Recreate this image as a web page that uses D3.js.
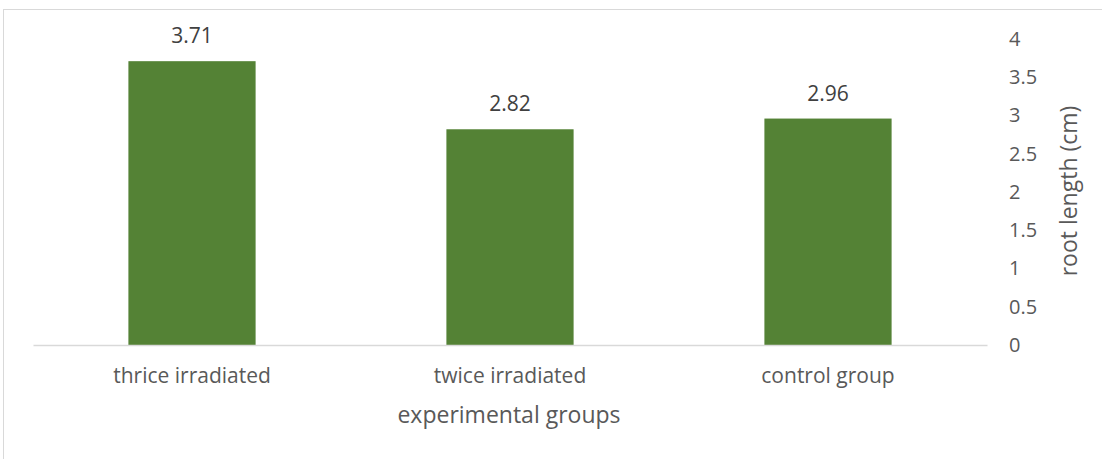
<!DOCTYPE html>
<html>
<head>
<meta charset="utf-8">
<script src="https://cdn.jsdelivr.net/npm/d3@7"></script>
<style>
  body { margin: 0; background: #fff; }
  svg text { font-family: "Open Sans", sans-serif; }
</style>
</head>
<body>
<script>
'use strict';

// chart data
const groups = ["thrice irradiated", "twice irradiated", "control group"];
const rootLength = [3.71, 2.82, 2.96];
const yTicks = [0, 0.5, 1, 1.5, 2, 2.5, 3, 3.5, 4];

const width = 1102, height = 459;

const svg = d3.select('body')
  .append('svg')
  .attr('width', width)
  .attr('height', height);

// chart area border
svg.append('rect')
  .attr('x', 3.5).attr('y', 9.5)
  .attr('width', 1110).attr('height', 460)
  .attr('fill', 'none')
  .attr('stroke', '#d9d9d9')
  .attr('stroke-width', 1);

// scales
const xScale = d3.scaleBand()
  .domain(groups)
  .range([33, 987]);

const yScale = d3.scaleLinear()
  .domain([0, 4])
  .range([345, 39]);

const barWidth = xScale.bandwidth() * 0.4;

// bars
svg.selectAll('.bar')
  .data(groups)
  .enter()
  .append('rect')
    .attr('class', 'bar')
    .attr('x', (d) => xScale(d) + (xScale.bandwidth() - barWidth) / 2)
    .attr('y', (d, i) => yScale(rootLength[i]))
    .attr('width', barWidth)
    .attr('height', (d, i) => yScale(0) - yScale(rootLength[i]))
    .attr('fill', '#548235');

// value labels
svg.selectAll('.val')
  .data(groups)
  .enter()
  .append('text')
    .attr('x', (d) => xScale(d) + xScale.bandwidth() / 2)
    .attr('y', (d, i) => yScale(rootLength[i]) - 18)
    .attr('text-anchor', 'middle')
    .attr('font-size', '21px')
    .attr('fill', '#404040')
    .text((d, i) => rootLength[i].toFixed(2));

// x axis (line + labels)
let xAxis = d3.axisBottom(xScale).tickSize(0).tickPadding(23);
let gx = svg.append('g')
  .attr('transform', 'translate(0, 345)')
  .call(xAxis);
gx.select('.domain').attr('stroke', '#d9d9d9').attr('stroke-width', 1.3);
gx.selectAll('text')
  .attr('font-size', '21px')
  .attr('fill', '#595959')
  .style('font-family', '"Open Sans", sans-serif');

// y axis on the right
let yAxis = d3.axisRight(yScale).tickValues(yTicks).tickSize(0).tickPadding(0)
  .tickFormat((d) => String(d));
let gy = svg.append('g')
  .attr('transform', 'translate(1009, 0)')
  .call(yAxis);
gy.select('.domain').remove();
gy.selectAll('text')
  .attr('font-size', '20px')
  .attr('fill', '#595959')
  .style('font-family', '"Open Sans", sans-serif');

// axis titles
svg.append('text')
  .attr('x', 509)
  .attr('y', 423)
  .attr('text-anchor', 'middle')
  .attr('font-size', '23px')
  .attr('fill', '#595959')
  .text('experimental groups');

svg.append('text')
  .attr('transform', 'translate(1077, 191) rotate(-90)')
  .attr('text-anchor', 'middle')
  .attr('font-size', '23px')
  .attr('fill', '#595959')
  .text('root length (cm)');
</script>
</body>
</html>
